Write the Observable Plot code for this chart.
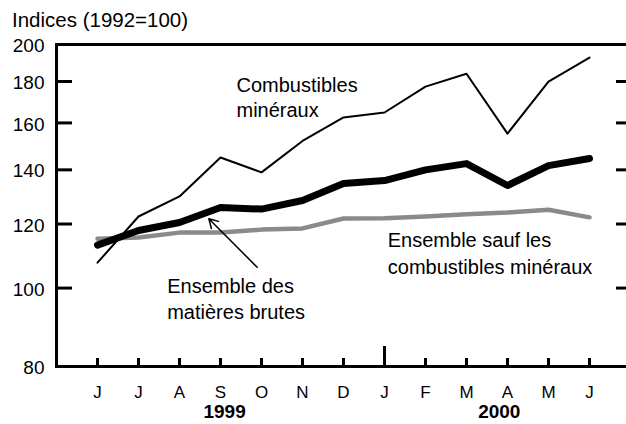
<!DOCTYPE html>
<html><head><meta charset="utf-8">
<script src="https://cdn.jsdelivr.net/npm/d3@7"></script>
<script src="https://cdn.jsdelivr.net/npm/@observablehq/plot@0.6"></script>
<style>
body{margin:0;background:#fff;overflow:hidden;font-family:"Liberation Sans",Arial,sans-serif}
#title{font-size:20.5px;height:36px;line-height:36px;padding:2px 0 0 12px;box-sizing:border-box;color:#000;white-space:nowrap;overflow:visible}
</style></head><body>
<div id="title">Indices (1992=100)</div>
<div id="chart"></div>
<script>
const months = ["J","J","A","S","O","N","D","J","F","M","A","M","J"];
const combustibles = [107.5,122.6,129.8,145,139,152,162.5,164.8,177.4,184,155.2,180,192.7];
const ensemble = [113,117.8,120.5,125.8,125.2,128.3,134.7,135.8,140,142.5,133.9,141.7,144.6];
const sauf = [115.1,115.5,117.1,117.1,118.1,118.5,121.9,122,122.6,123.4,124,125,122.3];
const yTicks = [80,100,120,140,160,180,200];
const yTickMarks = [100,120,140,160,180];
const yearLabels = ["1999","2000"];
const yearPos = [3.1,9.8];
const yearStartIdx = [7];
const labels = [
  {text:"Combustibles", x:3.39, y:174.9},
  {text:"minéraux", x:3.39, y:162.5},
  {text:"Ensemble des", x:1.70, y:98.7},
  {text:"matières brutes", x:1.70, y:91.7},
  {text:"Ensemble sauf les", x:7.08, y:112.4},
  {text:"combustibles minéraux", x:7.08, y:104.2}
];
const arrows = [{x1:3.895, y1:106.1, x2:2.715, y2:121.8}];

const idx = months.map((m,i)=>i);
const W = 626, H = 388;
const chart = Plot.plot({
  width: W, height: H,
  marginLeft: 56, marginRight: -4, marginTop: 8, marginBottom: 58,
  x: {domain: [-1, 13], range: [56, 630], axis: null},
  y: {type: "log", domain: [80, 200], range: [330, 8], axis: null},
  style: {fontFamily: "'Liberation Sans', Arial, sans-serif", background: "white", color: "black"},
  marks: [
    Plot.line(sauf, {x: (d,i)=>i, y: d=>d, stroke: "#8a8a8a", strokeWidth: 4.5, strokeLinejoin: "round"}),
    Plot.line(combustibles, {x: (d,i)=>i, y: d=>d, stroke: "black", strokeWidth: 2}),
    Plot.line(ensemble, {x: (d,i)=>i, y: d=>d, stroke: "black", strokeWidth: 7, strokeLinecap: "round", strokeLinejoin: "round"}),
    Plot.frame({stroke: "black", strokeWidth: 3}),
    Plot.tickY(yTickMarks, {y: d=>d, insetRight: 558, stroke: "black", strokeWidth: 3}),
    Plot.tickY(yTickMarks, {y: d=>d, insetLeft: 560, stroke: "black", strokeWidth: 3}),
    Plot.tickX(idx, {x: d=>d, insetTop: 314, stroke: "black", strokeWidth: 3}),
    Plot.tickX(yearStartIdx, {x: d=>d, insetTop: 302, stroke: "black", strokeWidth: 3}),
    Plot.text(yTicks, {y: d=>d, frameAnchor: "left", text: d=>String(d), textAnchor: "end", lineAnchor: "middle", dx: -12, dy: 1.5, fontSize: 19, fill: "black"}),
    Plot.axisX({ticks: idx, tickSize: 0, tickPadding: 19, fontSize: 17, tickFormat: i => months[i]}),
    Plot.axisX({ticks: yearPos, tickSize: 0, tickPadding: 38, fontSize: 19, fontWeight: "bold", tickFormat: d => yearLabels[yearPos.indexOf(d)]}),
    Plot.text(labels, {x: "x", y: "y", text: "text", textAnchor: "start", lineAnchor: "bottom", fontSize: 20, fill: "black"}),
    Plot.arrow(arrows, {x1: "x1", y1: "y1", x2: "x2", y2: "y2", stroke: "black", strokeWidth: 1.5, headLength: 10})
  ]
});
document.getElementById("chart").appendChild(chart);
</script>
</body></html>
